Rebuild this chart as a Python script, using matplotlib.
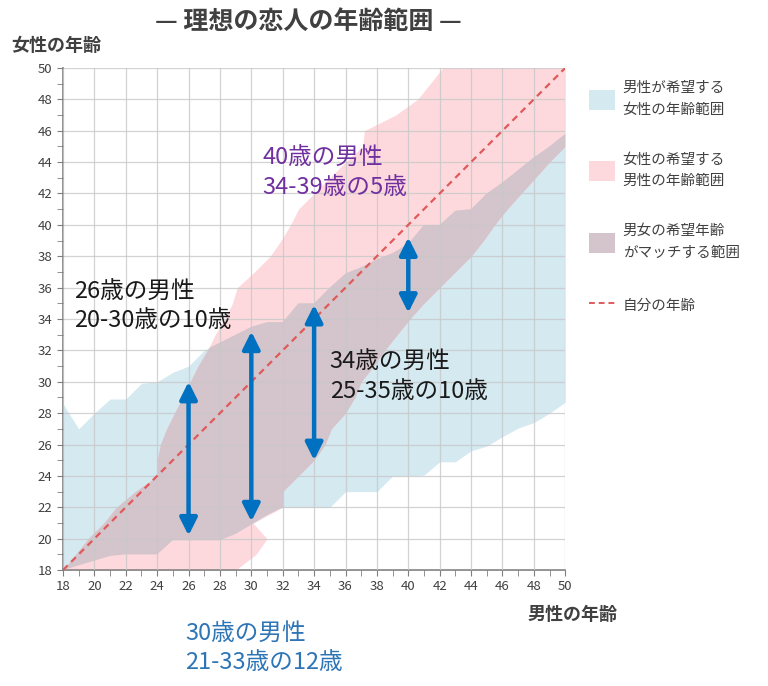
"""理想の恋人の年齢範囲: men's wished range vs women's wished range, with the overlap."""
import matplotlib
matplotlib.use("Agg")
import matplotlib.pyplot as plt
from matplotlib.patches import Patch
from matplotlib.lines import Line2D

plt.rcParams['font.family'] = ['Noto Sans CJK JP', 'DejaVu Sans']

# man's age -> range of women's ages he wishes for (blue)
men_age = list(range(18, 51))
blue_lo = [18, 18.3, 18.6, 18.9, 19.0, 19.0, 19.0, 19.9, 19.9, 19.9, 19.9, 20.3, 20.9,
           21.5, 22, 22, 22, 22, 23, 23, 23, 24, 24, 24.05, 24.9, 24.9, 25.6, 25.9,
           26.5, 27.05, 27.4, 28.0, 28.7]
blue_hi = [28.6, 27.0, 28.0, 28.9, 28.9, 29.9, 30.0, 30.6, 31.0, 32.0, 32.5, 33.0, 33.5,
           33.8, 33.8, 35.0, 35.0, 36.0, 36.9, 37.3, 37.8, 38.2, 38.8, 40.0, 40.0, 40.9,
           41.0, 42.0, 42.7, 43.5, 44.3, 45.0, 45.8]

# woman's age -> range of men's ages she wishes for (pink)
women_age = list(range(18, 51))
pink_lo = [18, 18.8, 19.6, 20.6, 21.4, 22.6, 24.0, 24.0, 24.2, 24.6, 25.1, 25.6, 26.1,
           26.6, 27.2, 27.7, 28.3, 28.8, 29.1, 30.2, 31.2, 31.9, 32.5, 33.0, 34.0, 35.0,
           36.0, 37.1, 37.2, 39.2, 40.6, 41.4, 42.2]
pink_hi = [29.0, 30.3, 31.0, 30.1, 32.0, 32.0, 33.0, 34.0, 34.7, 35.1, 36.0, 36.6, 37.0,
           37.8, 38.5, 39.3, 40.1, 41.0, 42.0, 43.0, 44.0, 44.8, 45.5, 46.3, 47.2, 48.1,
           49.0, 50, 50, 50, 50, 50, 50]

# example men and the matching range
arrow_x = [26, 30, 34, 40]
arrow_lo = [20.2, 21.1, 25.0, 34.4]
arrow_hi = [30.0, 33.2, 34.9, 39.2]
notes = ["26歳の男性\n20-30歳の10歳", "30歳の男性\n21-33歳の12歳",
         "34歳の男性\n25-35歳の10歳", "40歳の男性\n34-39歳の5歳"]
note_xy = [(18.7, 34.8), (25.8, 13.0), (35.0, 30.3), (30.7, 43.3)]
note_colors = ["#1a1a1a", "#2e75b6", "#1a1a1a", "#7030a0"]

C_BLUE = "#d5e9f1"
C_PINK = "#fdd9dd"
C_BOTH = "#d4c4cb"

fig = plt.figure(figsize=(7.68, 6.86), dpi=100)
ax = fig.add_axes([0.082, 0.169, 0.654, 0.732])

blue = ax.fill_between(men_age, blue_lo, blue_hi, color=C_BLUE, lw=0, zorder=1)
ax.fill_betweenx(women_age, pink_lo, pink_hi, color=C_PINK, lw=0, zorder=1.1)
both = ax.fill_betweenx(women_age, pink_lo, pink_hi, color=C_BOTH, lw=0, zorder=1.2)
both.set_clip_path(blue.get_paths()[0], ax.transData)

ax.plot([18, 50], [18, 50], color="#e05a5a", lw=1.6, dashes=(3, 2.2), zorder=3)

for x, lo, hi in zip(arrow_x, arrow_lo, arrow_hi):
    ax.annotate("", xy=(x, lo), xytext=(x, hi),
                arrowprops=dict(arrowstyle="<|-|>", color="#0070c0", lw=3.2,
                                mutation_scale=26, shrinkA=0, shrinkB=0), zorder=5)

for txt, (x, y), c in zip(notes, note_xy, note_colors):
    ax.text(x, y, txt, color=c, fontsize=17, ha="left", va="center",
            linespacing=1.3, zorder=6, clip_on=False)

ax.set_xlim(18, 50)
ax.set_ylim(18, 50)
ax.set_xticks(range(18, 51, 2))
ax.set_yticks(range(18, 51, 2))
ax.set_xticks(range(19, 50, 2), minor=True)
ax.set_yticks(range(19, 50, 2), minor=True)
ax.tick_params(which="both", direction="out", length=4, color="#7f7f7f",
               labelsize=9.5, labelcolor="#404040")
ax.grid(True, which="major", color="#c8c8c8", lw=0.9, alpha=0.8)
ax.set_axisbelow(False)
for s in ["top", "right"]:
    ax.spines[s].set_visible(False)
for s in ["left", "bottom"]:
    ax.spines[s].set_color("#7f7f7f")
    ax.spines[s].set_linewidth(1.2)

fig.text(308 / 768, 1 - 22 / 686, "— 理想の恋人の年齢範囲 —", ha="center", va="center",
         fontsize=18, weight="bold", color="#404040")
fig.text(11 / 768, 1 - 45 / 686, "女性の年齢", ha="left", va="center",
         fontsize=13, weight="bold", color="#404040")
fig.text(528 / 768, 1 - 614 / 686, "男性の年齢", ha="left", va="center",
         fontsize=13, weight="bold", color="#404040")

handles = [Patch(facecolor=C_BLUE), Patch(facecolor=C_PINK), Patch(facecolor=C_BOTH),
           Line2D([], [], color="#e05a5a", lw=1.4, dashes=(3, 2))]
labels = ["男性が希望する\n女性の年齢範囲", "女性の希望する\n男性の年齢範囲",
          "男女の希望年齢\nがマッチする範囲", "自分の年齢"]
leg = ax.legend(handles, labels, loc="upper left", bbox_to_anchor=(576 / 768, 1 - 68 / 686),
                bbox_transform=fig.transFigure, frameon=False, fontsize=10.5,
                handlelength=1.75, handleheight=1.75, handletextpad=0.55, labelspacing=2.45)
for t in leg.get_texts():
    t.set_color("#404040")
    t.set_linespacing(1.7)

fig.savefig("out.png", dpi=100)
